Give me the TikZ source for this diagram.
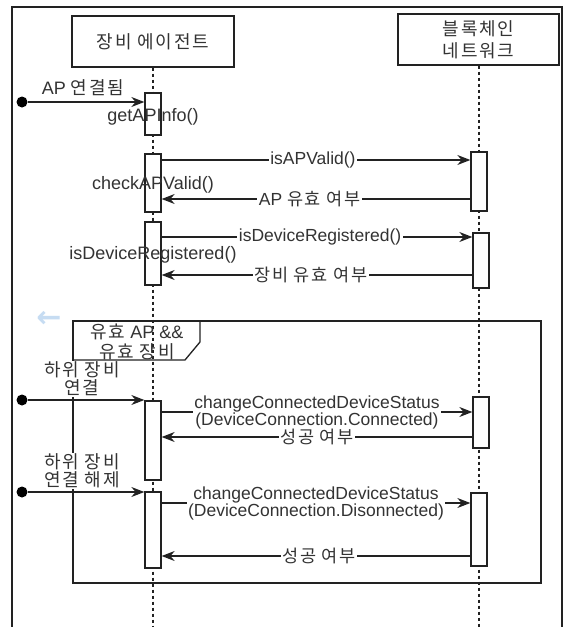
\documentclass[tikz,border=0pt]{standalone}
\usepackage{fontspec}
\setmainfont{Liberation Sans}
\newfontfamily\krfont[LetterSpace=10]{Noto Sans CJK KR}
\newfontfamily\symfont{DejaVu Sans}
\newcommand{\kor}[1]{{\krfont #1}}
\usepackage{tikz}
\usetikzlibrary{arrows.meta,positioning,calc}
\definecolor{txtgray}{HTML}{333333}
\definecolor{lngray}{HTML}{222222}
\definecolor{ghostblue}{HTML}{C6DCF2}
\tikzset{
  actor/.style={draw=lngray,line width=1.3pt,minimum height=51pt,align=center,inner sep=2pt},
  lifeln/.style={draw=lngray,line width=1.6pt,dash pattern=on 3pt off 3pt},
  actbox/.style={draw=lngray,fill=white,line width=1.3pt,minimum width=16pt,inner sep=0pt},
  msg/.style={draw=lngray,-{Stealth[length=13pt,width=10pt]},line width=1.3pt},
  msglab/.style={fill=white,inner sep=1.5pt,align=center,font=\fontsize{17.5}{17}\selectfont},
  startdot/.style={circle,fill=black,inner sep=0pt,minimum size=11pt},
  fragline/.style={draw=lngray,line width=1.3pt},
  sidelab/.style={align=center,fill=white,inner sep=0.5pt,font=\fontsize{18}{18}\selectfont}
}
\begin{document}
\begin{tikzpicture}[x=1pt,y=-1pt,font=\fontsize{18}{18}\selectfont,text=txtgray]
  \useasboundingbox (0,0) rectangle (564,627);
  \draw[line width=1.3pt,lngray] (12,627) -- (12,7) -- (562,7) -- (562,627);
  \node[actor,minimum width=162pt] (agent) at (153,41.5) {\kor{장비 에이전트}};
  \node[actor,minimum width=161pt,font=\fontsize{18}{22}\selectfont] (chain) at (478.5,39.5) {\kor{블록체인}\\\kor{네트워크}};
  \draw[lifeln] (agent.south) -- (agent.south |- 0,627);
  \draw[lifeln] (chain.south -| 479,0) -- (479,627);
  \node[text=ghostblue,font=\symfont\bfseries\fontsize{30}{30}\selectfont] (ghost) at (49,319) {←};
  \draw[fragline] (73,321) rectangle (541,583);
  \draw[fragline] (73,360) -- (185,360) -- (200,342) -- (200,321);
  \node[align=center,font=\fontsize{18}{20}\selectfont] (guard) at (137,342) {\kor{유효} AP \&\&\\\kor{유효 장비}};
  \node[actbox,minimum height=42pt] (aa1) at (153,114) {};
  \node[actbox,minimum height=58pt] (aa2) at (153,183) {};
  \node[actbox,minimum height=63pt] (aa3) at (153,253.5) {};
  \node[actbox,minimum height=79pt] (aa4) at (153,440.5) {};
  \node[actbox,minimum height=76pt] (aa5) at (153,530) {};
  \node[actbox,minimum height=59pt] (na1) at (479,181.5) {};
  \node[actbox,minimum height=55pt] (na2) at (481,260.5) {};
  \node[actbox,minimum height=51pt] (na3) at (481,422.5) {};
  \node[actbox,minimum height=73pt] (na4) at (479,529.5) {};
  \node[startdot] (s1) at (22,102) {};
  \node[startdot] (s2) at (22,400) {};
  \node[startdot] (s3) at (22,492) {};
  \draw[msg] (s1) -- (aa1.west |- s1);
  \node[sidelab] (l1) at (83,88) {AP \kor{연결됨}};
  \node (f1) at (153,117) {getAPInfo()};
  \draw[msg] (aa2.east |- 0,160) -- (na1.west |- 0,160) node[msglab,pos=0.49] {isAPValid()};
  \node (f2) at (153,185) {checkAPValid()};
  \draw[msg] (na1.west |- 0,199) -- (aa2.east |- 0,199) node[msglab,pos=0.52] {AP \kor{유효 여부}};
  \draw[msg] (aa3.east |- 0,237) -- (na2.west |- 0,237) node[msglab,pos=0.51] {isDeviceRegistered()};
  \node (f3) at (153,255) {isDeviceRegistered()};
  \draw[msg] (na2.west |- 0,275) -- (aa3.east |- 0,275) node[msglab,pos=0.52] {\kor{장비 유효 여부}};
  \draw[msg] (s2) -- (aa4.west |- s2);
  \node[sidelab] (l2) at (82,379) {\kor{하위 장비}\\\kor{연결}};
  \draw[msg] (aa4.east |- 0,412) -- (na3.west |- 0,412) node[msglab,midway] {changeConnectedDeviceStatus\\(DeviceConnection.Connected)};
  \draw[msg] (na3.west |- 0,437) -- (aa4.east |- 0,437) node[msglab,midway] {\kor{성공 여부}};
  \draw[msg] (s3) -- (aa5.west |- s3);
  \node[sidelab] (l3) at (82,471) {\kor{하위 장비}\\\kor{연결 해제}};
  \draw[msg] (aa5.east |- 0,503) -- (na4.west |- 0,503) node[msglab,midway] {changeConnectedDeviceStatus\\(DeviceConnection.Disonnected)};
  \draw[msg] (na4.west |- 0,556) -- (aa5.east |- 0,556) node[msglab,pos=0.49] {\kor{성공 여부}};
\end{tikzpicture}
\end{document}
